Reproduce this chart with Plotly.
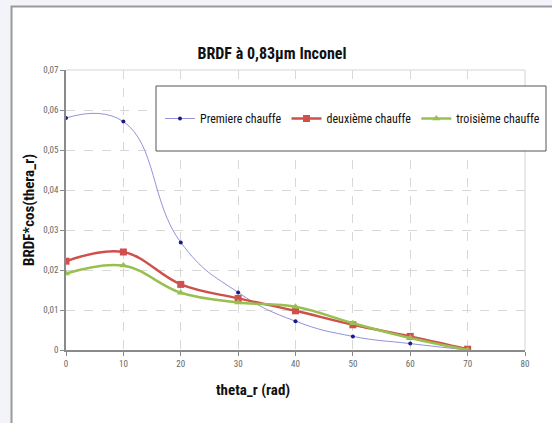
import plotly.graph_objects as go

W, H = 552, 423

theta = [0, 10, 20, 30, 40, 50, 60, 70]
premiere = [0.0580, 0.0571, 0.0269, 0.0144, 0.0072, 0.0034, 0.0016, 0.0000]
deuxieme = [0.0222, 0.0245, 0.0164, 0.0129, 0.0098, 0.0063, 0.0034, 0.0002]
troisieme = [0.0191, 0.0211, 0.0143, 0.0119, 0.0108, 0.0067, 0.0030, 0.0000]

series_names = ["Premiere chauffe", "deuxième chauffe", "troisième chauffe"]
title_text = "BRDF à 0,83µm Inconel"
x_title = "theta_r (rad)"
y_title = "BRDF*cos(thera_r)"

COND = "Roboto Condensed, Roboto, Liberation Sans, sans-serif"


def px_x(p):
    return p / W


def px_y(p):
    return 1 - p / H


fig = go.Figure()
fig.add_trace(go.Scatter(
    x=theta, y=premiere, name=series_names[0], mode="lines+markers",
    line=dict(color="#9292da", width=1, shape="spline", smoothing=1.3),
    marker=dict(color="#1b1b86", size=4, symbol="circle")))
fig.add_trace(go.Scatter(
    x=theta, y=deuxieme, name=series_names[1], mode="lines+markers",
    line=dict(color="#cf4f4b", width=2.5, shape="spline", smoothing=1.1),
    marker=dict(color="#d2504c", size=7, symbol="square")))
fig.add_trace(go.Scatter(
    x=theta, y=troisieme, name=series_names[2], mode="lines+markers",
    line=dict(color="#98c050", width=2.5, shape="spline", smoothing=1.1),
    marker=dict(color="#98c050", size=7, symbol="triangle-up")))

x0p, x1p = 66, 525
y0p, y1p = 70, 350
leg_left = 160

shapes = [
    # chart area white frame
    dict(type="rect", xref="paper", yref="paper",
         x0=px_x(11.5), x1=1.05, y0=-0.05, y1=px_y(6.5),
         fillcolor="white", line=dict(color="#9a9a9a", width=2), layer="below"),
    # plot area light border (top/right)
    dict(type="line", xref="x domain", yref="y domain", x0=0, x1=1, y0=1, y1=1,
         line=dict(color="#d4d4d4", width=1), layer="below"),
    dict(type="line", xref="x domain", yref="y domain", x0=1, x1=1, y0=0, y1=1,
         line=dict(color="#d4d4d4", width=1), layer="below"),
    # legend box
    dict(type="rect", xref="paper", yref="paper",
         x0=px_x(leg_left - 4), x1=px_x(546), y0=px_y(151), y1=px_y(86),
         fillcolor="white", line=dict(color="#555555", width=1), layer="above"),
]

annotations = [
    dict(text=x_title, x=px_x(253), y=px_y(390), xref="paper", yref="paper",
         xanchor="center", yanchor="middle", showarrow=False,
         font=dict(family=COND, size=15, color="#111111", weight="bold")),
]

fig.update_layout(
    width=W, height=H,
    margin=dict(l=0, r=0, t=0, b=0, autoexpand=False),
    paper_bgcolor="#f3f4f9",
    plot_bgcolor="white",
    separators=", ",
    showlegend=True,
    legend=dict(orientation="h", x=px_x(leg_left), y=px_y(118.5),
                xanchor="left", yanchor="middle",
                bgcolor="rgba(0,0,0,0)", borderwidth=0,
                font=dict(family=COND, size=12, color="#111111"),
                itemwidth=30, tracegroupgap=0),
    title=dict(text=title_text, x=px_x(272), y=px_y(53),
               xref="paper", yref="paper", xanchor="center", yanchor="middle",
               font=dict(family=COND, size=16, color="#111111", weight="bold")),
    xaxis=dict(domain=[px_x(x0p), px_x(x1p)], range=[0, 80], dtick=10,
               showgrid=True, gridcolor="#d8d8d8", griddash="dash", gridwidth=1,
               zeroline=False, showline=True, linecolor="#8a8a8a", linewidth=1.5,
               ticks="outside", ticklen=4, tickcolor="#8a8a8a",
               tickfont=dict(family=COND, size=9, color="#666666")),
    yaxis=dict(domain=[px_y(y1p), px_y(y0p)], range=[0, 0.07], dtick=0.01,
               showgrid=True, gridcolor="#d8d8d8", griddash="dash", gridwidth=1,
               zeroline=False, showline=True, linecolor="#8a8a8a", linewidth=1.5,
               ticks="outside", ticklen=4, tickcolor="#8a8a8a",
               tickfont=dict(family=COND, size=9, color="#666666"),
               title=dict(text=y_title, standoff=5,
                          font=dict(family=COND, size=15, color="#111111", weight="bold"))),
    shapes=shapes,
    annotations=annotations,
)

fig.write_html("out.html")
